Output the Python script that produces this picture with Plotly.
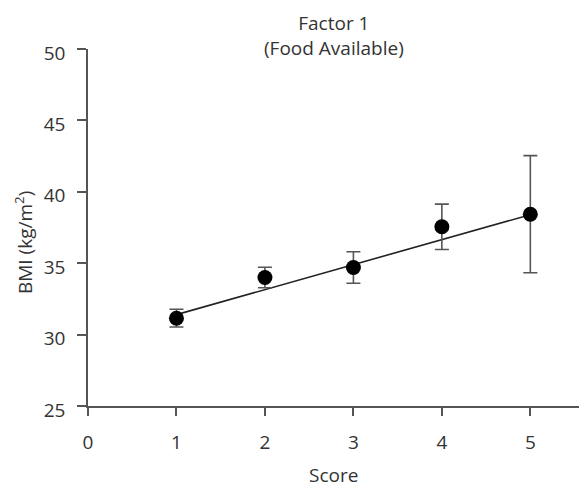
import plotly.graph_objects as go

scores = [1, 2, 3, 4, 5]
bmi_mean = [31.15, 34.0, 34.7, 37.55, 38.43]
bmi_err = [0.62, 0.72, 1.1, 1.59, 4.1]
fit_x = [1, 5]
fit_y = [31.4, 38.4]
x_ticks = [0, 1, 2, 3, 4, 5]
y_ticks = [25, 30, 35, 40, 45, 50]

FONT = "Open Sans"
TXT = "#333333"
AX = "#555555"

fig = go.Figure()
fig.add_trace(go.Scatter(x=fit_x, y=fit_y, mode="lines",
                         line=dict(color="#222222", width=1.6),
                         hoverinfo="skip", showlegend=False))
fig.add_trace(go.Scatter(x=scores, y=bmi_mean, mode="markers",
                         marker=dict(color="black", size=15),
                         error_y=dict(type="data", array=bmi_err, visible=True,
                                      color=AX, thickness=1.6, width=7),
                         showlegend=False))

fig.update_layout(
    width=579, height=489,
    margin=dict(l=88, r=0, t=49, b=83, pad=0, autoexpand=False),
    paper_bgcolor="white", plot_bgcolor="white",
    font=dict(family=FONT, size=19, color=TXT),
    showlegend=False,
    xaxis=dict(range=[0, 5.55], tickvals=x_ticks, ticktext=[str(v) for v in x_ticks],
               showline=True, linecolor=AX, linewidth=1.6, automargin=False,
               ticks="outside", ticklen=8, tickwidth=1.6, tickcolor=AX,
               showgrid=False, zeroline=False, ticklabelstandoff=10),
    yaxis=dict(range=[25, 50], tickvals=y_ticks, ticktext=[str(v) for v in y_ticks],
               showline=True, linecolor=AX, linewidth=1.6, automargin=False,
               ticks="outside", ticklen=9, tickwidth=1.6, tickcolor=AX,
               showgrid=False, zeroline=False, ticklabelstandoff=8,
               ticklabelshift=4),
    annotations=[
        dict(text="Factor 1<br>(Food Available)", xref="paper", yref="paper",
             x=0.5, y=1.0385, xanchor="center", yanchor="middle", showarrow=False,
             font=dict(family=FONT, size=19, color=TXT)),
        dict(text="Score", xref="paper", yref="paper",
             x=0.5, y=-0.1935, xanchor="center", yanchor="middle", showarrow=False,
             font=dict(family=FONT, size=19, color=TXT)),
        dict(text="BMI (kg/m<sup>2</sup>)", textangle=-90,
             xref="paper", yref="paper", x=-0.1303, y=0.4566,
             xanchor="center", yanchor="middle", showarrow=False,
             font=dict(family=FONT, size=19, color=TXT)),
    ],
)

fig.write_html("out.html", config={"displayModeBar": False},
               post_script="document.body.style.margin='0';document.body.style.overflow='hidden';")
